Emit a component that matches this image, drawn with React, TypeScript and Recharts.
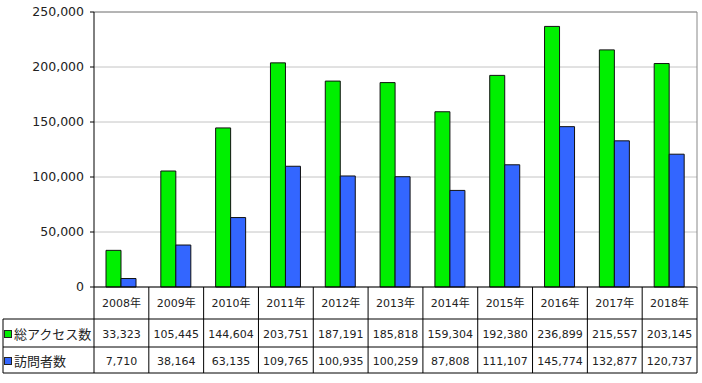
import { BarChart, Bar, XAxis, YAxis, CartesianGrid, ReferenceLine } from 'recharts';

const years = ['2008年', '2009年', '2010年', '2011年', '2012年', '2013年', '2014年', '2015年', '2016年', '2017年', '2018年'];
const totalAccess = [33323, 105445, 144604, 203751, 187191, 185818, 159304, 192380, 236899, 215557, 203145];
const visitors = [7710, 38164, 63135, 109765, 100935, 100259, 87808, 111107, 145774, 132877, 120737];
const yTicks = [0, 50000, 100000, 150000, 200000, 250000];

const seriesNames = ['総アクセス数', '訪問者数'];
const GREEN = '#00f000';
const BLUE = '#3366ff';

const W = 702;
const H = 383;
const PLOT_LEFT = 94;
const PLOT_RIGHT = 697;
const CELL_W = (PLOT_RIGHT - PLOT_LEFT) / years.length;
// table rows (px below the zero line)
const ROW1 = 32;
const ROW2 = 60;
const ROW3 = 86;
const TABLE_LEFT = 3;

const chartData = years.map((y, i) => ({ year: y, total: totalAccess[i], visitors: visitors[i] }));

const fmt = (v: number) => v.toLocaleString('en-US');

function TableTick(props: any) {
  const { x, y, payload } = props;
  const i = years.indexOf(payload.value);
  const l = x - CELL_W / 2;
  const r = x + CELL_W / 2;
  const last = i === years.length - 1;
  return (
    <g>
      <line x1={l} y1={y} x2={l} y2={y + ROW3} stroke="#000" />
      {last && <line x1={r} y1={y} x2={r} y2={y + ROW3} stroke="#000" />}
      <text x={x} y={y + 16} dy="0.35em" textAnchor="middle" fontSize={11} fill="#222">{payload.value}</text>
      <text x={x} y={y + 47} dy="0.35em" textAnchor="middle" fontSize={11} fill="#222">{fmt(totalAccess[i])}</text>
      <text x={x} y={y + 74} dy="0.35em" textAnchor="middle" fontSize={11} fill="#222">{fmt(visitors[i])}</text>
      {i === 0 && (
        <g>
          <line x1={TABLE_LEFT} y1={y + ROW1} x2={PLOT_RIGHT} y2={y + ROW1} stroke="#000" />
          <line x1={TABLE_LEFT} y1={y + ROW2} x2={PLOT_RIGHT} y2={y + ROW2} stroke="#000" />
          <line x1={TABLE_LEFT} y1={y + ROW3} x2={PLOT_RIGHT} y2={y + ROW3} stroke="#000" />
          <line x1={TABLE_LEFT} y1={y + ROW1} x2={TABLE_LEFT} y2={y + ROW3} stroke="#000" />
          <rect x={TABLE_LEFT + 1.5} y={y + 43.5} width={7} height={7} fill={GREEN} stroke="#222" />
          <text x={TABLE_LEFT + 11} y={y + 47} dy="0.35em" fontSize={13} fill="#222">{seriesNames[0]}</text>
          <rect x={TABLE_LEFT + 1.5} y={y + 70.5} width={7} height={7} fill={BLUE} stroke="#222" />
          <text x={TABLE_LEFT + 11} y={y + 74} dy="0.35em" fontSize={13} fill="#222">{seriesNames[1]}</text>
        </g>
      )}
    </g>
  );
}

export default function App() {
  return (
    <div style={{ position: 'absolute', left: 0, top: 0, background: '#fff', fontFamily: '"DejaVu Sans", "Noto Sans CJK JP", sans-serif' }}>
      <BarChart
        width={W}
        height={H}
        data={chartData}
        margin={{ top: 12, right: 0, left: 0, bottom: 0 }}
        barGap={0}
        barSize={15}
      >
        <CartesianGrid vertical={false} stroke="#c4c4c4" />
        <XAxis
          dataKey="year"
          height={96}
          interval={0}
          tickLine={false}
          tickSize={0}
          tickMargin={0}
          axisLine={{ stroke: '#000' }}
          tick={<TableTick />}
        />
        <YAxis
          width={PLOT_LEFT}
          domain={[0, 250000]}
          ticks={yTicks}
          tickFormatter={fmt}
          tickSize={4}
          tickMargin={6}
          axisLine={{ stroke: '#000' }}
          tickLine={{ stroke: '#000' }}
          tick={{ fill: '#222', fontSize: 12.5 }}
        />
        <YAxis yAxisId="r" orientation="right" width={5} tick={false} tickLine={false} axisLine={{ stroke: '#888' }} />
        <ReferenceLine y={250000} stroke="#888" />
        <Bar dataKey="total" name={seriesNames[0]} fill={GREEN} stroke="#111" strokeWidth={1} isAnimationActive={false} />
        <Bar dataKey="visitors" name={seriesNames[1]} fill={BLUE} stroke="#111" strokeWidth={1} isAnimationActive={false} />
      </BarChart>
    </div>
  );
}
